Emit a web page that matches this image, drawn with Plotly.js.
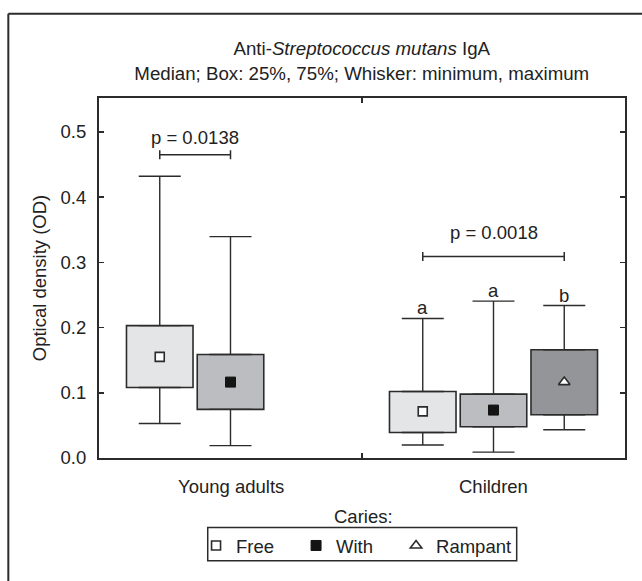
<!DOCTYPE html>
<html>
<head>
<meta charset="utf-8">
<script src="https://cdn.plot.ly/plotly-3.0.1.min.js"></script>
<style>html,body{margin:0;padding:0;background:#fff;}#chart{width:642px;height:581px;}</style>
</head>
<body>
<div id="chart"></div>
<script>
// ---- data ----
var categories = ['Young adults', 'Children'];
var seriesNames = ['Free', 'With', 'Rampant'];

var freeMin    = [0.053, 0.020];
var freeQ1     = [0.108, 0.039];
var freeMedian = [0.155, 0.0715];
var freeQ3     = [0.203, 0.102];
var freeMax    = [0.432, 0.214];

var withMin    = [0.019, 0.009];
var withQ1     = [0.0746, 0.048];
var withMedian = [0.1164, 0.0735];
var withQ3     = [0.1588, 0.098];
var withMax    = [0.3395, 0.2405];

var rampMin    = [null, 0.0434];
var rampQ1     = [null, 0.0664];
var rampMedian = [null, 0.1164];
var rampQ3     = [null, 0.166];
var rampMax    = [null, 0.2338];

var pLabels    = ['p = 0.0138', 'p = 0.0018'];
var pBracketY  = [0.465, 0.309];
var pTextY     = [0.492, 0.346];
var pFrom      = [0, 0];   // series index
var pTo        = [1, 2];
var groupLetters = [['', '', ''], ['a', 'a', 'b']];

var yTicks = [0, 0.1, 0.2, 0.3, 0.4, 0.5];

// ---- styles ----
var ink = '#2b2b2b';
var fills = ['#e4e5e6', '#bcbdc0', '#949598'];
var FONT = 'Liberation Sans, Arial, sans-serif';
var FS = 18.5;
var slot = 0.269, boxW = 0.253;
function pos(ci, si) { return ci + (si - 1) * slot; }

var S = [
  {min: freeMin, q1: freeQ1, med: freeMedian, q3: freeQ3, max: freeMax, lw: 55,
   marker: {symbol: 'square', size: 9, color: '#ffffff', line: {color: ink, width: 1.6}}},
  {min: withMin, q1: withQ1, med: withMedian, q3: withQ3, max: withMax, lw: 55,
   marker: {symbol: 'square', size: 10, color: '#141414', line: {color: '#141414', width: 1}}},
  {min: rampMin, q1: rampQ1, med: rampMedian, q3: rampQ3, max: rampMax, lw: 80,
   marker: {symbol: 'triangle-up', size: 10, color: '#ffffff', line: {color: ink, width: 1.6}}}
];

var traces = [];
S.forEach(function (s, si) {
  var xs = categories.map(function (c, ci) { return pos(ci, si); });
  var h = s.q3.map(function (v, i) { return v == null ? null : v - s.q1[i]; });
  traces.push({type: 'bar', x: xs, y: h, base: s.q1, width: boxW,
    marker: {color: fills[si], line: {color: ink, width: 1.6}},
    showlegend: false, hoverinfo: 'skip'});
});
S.forEach(function (s, si) {
  var xs = categories.map(function (c, ci) { return pos(ci, si); });
  var zeros = categories.map(function () { return 0; });
  traces.push({type: 'scatter', mode: 'markers', x: xs, y: s.q3,
    marker: {size: 1, color: 'rgba(0,0,0,0)'},
    error_y: {type: 'data', symmetric: false,
      array: s.max.map(function (v, i) { return v == null ? null : v - s.q3[i]; }),
      arrayminus: zeros, width: 21, thickness: 1.4, color: ink},
    showlegend: false, hoverinfo: 'skip'});
  traces.push({type: 'scatter', mode: 'markers', x: xs, y: s.q1,
    marker: {size: 1, color: 'rgba(0,0,0,0)'},
    error_y: {type: 'data', symmetric: false, array: zeros,
      arrayminus: s.min.map(function (v, i) { return v == null ? null : s.q1[i] - v; }),
      width: 21, thickness: 1.4, color: ink},
    showlegend: false, hoverinfo: 'skip'});
});
S.forEach(function (s, si) {
  var xs = categories.map(function (c, ci) { return pos(ci, si); });
  traces.push({type: 'scatter', mode: 'markers', name: seriesNames[si], legendwidth: s.lw,
    x: xs, y: s.med, marker: s.marker, hoverinfo: 'skip'});
});

// ---- annotations & shapes ----
var annotations = [];
var shapes = [];
var txt = {family: FONT, size: FS, color: '#222'};

categories.forEach(function (c, ci) {
  annotations.push({x: ci, y: 0, xref: 'x', yref: 'y', text: c, showarrow: false,
    yanchor: 'middle', yshift: -28, font: txt});
  groupLetters[ci].forEach(function (L, si) {
    if (!L) return;
    annotations.push({x: pos(ci, si), y: S[si].max[ci], xref: 'x', yref: 'y', text: L,
      showarrow: false, yanchor: 'bottom', yshift: -2, font: txt});
  });
  var x0 = pos(ci, pFrom[ci]), x1 = pos(ci, pTo[ci]);
  annotations.push({x: (x0 + x1) / 2, y: pTextY[ci], xref: 'x', yref: 'y', text: pLabels[ci],
    showarrow: false, yanchor: 'middle', font: txt});
  shapes.push({type: 'line', xref: 'x', yref: 'y', x0: x0, x1: x1, y0: pBracketY[ci], y1: pBracketY[ci],
    line: {color: ink, width: 1.5}});
  [x0, x1].forEach(function (xx) {
    shapes.push({type: 'line', xref: 'x', yref: 'y', x0: xx, x1: xx, ysizemode: 'pixel',
      yanchor: pBracketY[ci], y0: -4.5, y1: 4.5, line: {color: ink, width: 1.5}});
  });
});

annotations.push({x: 0.5025, y: -0.162, xref: 'paper', yref: 'paper', text: 'Caries:',
  showarrow: false, yanchor: 'middle', font: txt});

// legend frame
shapes.push({type: 'rect', xref: 'paper', yref: 'paper', x0: 0.2067, x1: 0.7941, y0: -0.1932, y1: -0.2854,
  line: {color: ink, width: 1.5}, fillcolor: 'rgba(0,0,0,0)'});
// outer figure border (top and left)
shapes.push({type: 'line', xref: 'paper', yref: 'paper', x0: -0.1724, x1: 1.04, y0: 1.2338, y1: 1.2338,
  line: {color: ink, width: 2}});
shapes.push({type: 'line', xref: 'paper', yref: 'paper', x0: -0.1724, x1: -0.1724, y0: 1.2338, y1: -0.36,
  line: {color: ink, width: 2}});

var layout = {
  width: 642, height: 581,
  margin: {l: 99, r: 17, t: 97.5, b: 123.3},
  paper_bgcolor: '#ffffff', plot_bgcolor: '#ffffff',
  font: {family: FONT, size: FS, color: '#222'},
  title: {text: 'Anti-<i>Streptococcus mutans</i> IgA<br>Median; Box: 25%, 75%; Whisker: minimum, maximum',
    x: 0.5635, xanchor: 'center', xref: 'container', y: 0.905, yref: 'container', yanchor: 'middle',
    font: {family: FONT, size: 18.7, color: '#222'}},
  barmode: 'overlay',
  showlegend: true,
  legend: {orientation: 'h', x: 0.1845, xanchor: 'left', y: -0.2443, yanchor: 'middle',
    bgcolor: 'rgba(0,0,0,0)', borderwidth: 0, entrywidth: 55, entrywidthmode: 'pixels',
    font: {family: FONT, size: FS, color: '#222'}},
  xaxis: {range: [-0.5, 1.5], tickvals: [0.5], ticks: 'inside', ticklen: 5, tickwidth: 1.5,
    tickcolor: ink, showticklabels: false, showgrid: false, zeroline: false,
    showline: true, linecolor: ink, linewidth: 2, mirror: 'ticks', fixedrange: true},
  yaxis: {range: [0, 0.552], tickvals: yTicks, tickformat: '.1f', ticks: 'inside', ticklen: 5,
    tickwidth: 1.5, tickcolor: ink, showgrid: false, zeroline: false,
    showline: true, linecolor: ink, linewidth: 2, mirror: 'ticks', ticklabelstandoff: 7,
    title: {text: 'Optical density (OD)', font: {family: FONT, size: FS, color: '#222'}, standoff: 9},
    automargin: false, fixedrange: true},
  annotations: annotations,
  shapes: shapes
};

Plotly.newPlot('chart', traces, layout, {staticPlot: true, displayModeBar: false});
</script>
</body>
</html>
